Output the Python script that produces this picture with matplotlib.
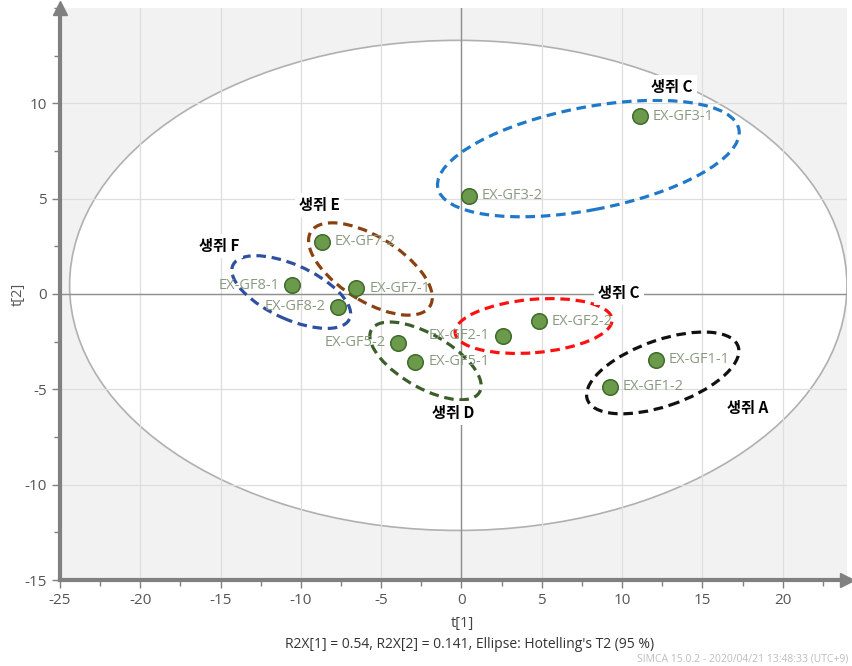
import matplotlib
import matplotlib.pyplot as plt
from matplotlib.patches import Ellipse
from matplotlib.ticker import MultipleLocator

matplotlib.use("Agg")
plt.rcParams["axes.unicode_minus"] = False

# score values t[1], t[2]
samples = ["EX-GF3-1", "EX-GF3-2", "EX-GF7-2", "EX-GF7-1", "EX-GF8-1", "EX-GF8-2",
           "EX-GF5-2", "EX-GF5-1", "EX-GF2-1", "EX-GF2-2", "EX-GF1-1", "EX-GF1-2"]
t1 = [11.1, 0.44, -8.67, -6.55, -10.54, -7.67, -3.93, -2.87, 2.56, 4.8, 12.1, 9.23]
t2 = [9.33, 5.14, 2.73, 0.31, 0.47, -0.68, -2.57, -3.56, -2.2, -1.42, -3.46, -4.87]
label_side = ["r", "r", "r", "r", "l", "l", "l", "r", "l", "r", "r", "r"]

# group ellipses: center x, center y, width, height, angle
group_cx = [7.9, -5.67, -10.6, -2.24, 4.49, 12.53]
group_cy = [7.1, 1.31, 0.1, -3.51, -1.68, -4.14]
group_w = [19.0, 8.4, 7.8, 7.5, 9.8, 9.8]
group_h = [5.4, 3.5, 2.9, 2.9, 2.8, 3.5]
group_ang = [9, -26, -20, -24.5, 4, 15.7]
group_col = ["#1f78c8", "#8b4010", "#2f4f9f", "#3b5e2b", "#ff1010", "#111111"]

# annotation labels
group_names = ["생쥐 C", "생쥐 E", "생쥐 F", "생쥐 C", "생쥐 D", "생쥐 A"]
name_x = [13.1, -8.85, -15.1, 9.8, -0.5, 17.8]
name_y = [10.85, 4.66, 2.5, 0.05, -6.24, -5.97]

t2_center = (-0.2, 0.45)
t2_radius = (24.2, 12.85)

fig = plt.figure(figsize=(8.53, 6.66), dpi=100, facecolor="white")
ax = fig.add_axes([0.0703, 0.1291, 0.9226, 0.859])
ax.set_facecolor("#f2f2f2")
ax.set_xlim(-25, 24)
ax.set_ylim(-15, 15)

ax.add_patch(Ellipse(t2_center, 2 * t2_radius[0], 2 * t2_radius[1], facecolor="white",
                     edgecolor="#b0b0b0", lw=1.2, zorder=0.2))

ax.xaxis.set_major_locator(MultipleLocator(5))
ax.yaxis.set_major_locator(MultipleLocator(5))
ax.xaxis.set_minor_locator(MultipleLocator(2.5))
ax.yaxis.set_minor_locator(MultipleLocator(2.5))
ax.set_axisbelow(True)
ax.grid(True, which="major", color="#dedede", lw=0.9)
ax.axhline(0, color="#8f8f8f", lw=1.0, zorder=0.6)
ax.axvline(0, color="#8f8f8f", lw=1.0, zorder=0.6)

for s in ["top", "right"]:
    ax.spines[s].set_visible(False)
for s in ["left", "bottom"]:
    ax.spines[s].set_color("#808080")
    ax.spines[s].set_linewidth(3)
ax.plot(1, 0, ">", color="#808080", ms=10, transform=ax.transAxes, clip_on=False)
ax.plot(0, 1, "^", color="#808080", ms=10, transform=ax.transAxes, clip_on=False)

ax.tick_params(which="both", direction="out", color="#808080", labelcolor="#555555",
               labelsize=11, length=6, width=1)
ax.tick_params(which="minor", length=4)
ax.set_yticks([-15, -10, -5, 0, 5, 10])
for lab in ax.get_xticklabels() + ax.get_yticklabels():
    lab.set_family("Open Sans")

for cx, cy, w, h, a, c in zip(group_cx, group_cy, group_w, group_h, group_ang, group_col):
    ax.add_patch(Ellipse((cx, cy), w, h, angle=a, fill=False, edgecolor=c, lw=2.3,
                         linestyle=(0, (3, 1.8)), zorder=3))

ax.scatter(t1, t2, s=125, color="#6a9a4a", edgecolor="#3f6a2c", lw=1.1, zorder=4)
for name, x, y, side in zip(samples, t1, t2, label_side):
    dx = 0.8 if side == "r" else -0.8
    ax.text(x + dx, y, name, ha="left" if side == "r" else "right", va="center",
            fontsize=10.5, color="#8a9a80", family="Open Sans", zorder=5)

for name, x, y in zip(group_names, name_x, name_y):
    ax.text(x, y, name, ha="center", va="center", fontsize=11, fontweight="bold",
            family=["Noto Sans CJK KR", "DejaVu Sans"], color="black", zorder=6,
            bbox=dict(facecolor="white", edgecolor="none", pad=3))

fig.text(18 / 853, 1 - 294 / 666, "t[2]", rotation=90, ha="center", va="center",
         fontsize=10.5, color="#555555", family="Open Sans")
fig.text(462 / 853, 1 - 624 / 666, "t[1]", ha="center", va="center",
         fontsize=10.5, color="#444444", family="Open Sans")
fig.text(470 / 853, 1 - 645 / 666, "R2X[1] = 0.54, R2X[2] = 0.141, Ellipse: Hotelling's T2 (95 %)",
         ha="center", va="center", fontsize=10, color="#333333", family="Open Sans")
fig.text(637 / 853, 1 - 659 / 666, "SIMCA 15.0.2 - 2020/04/21 13:48:33 (UTC+9)",
         ha="left", va="center", fontsize=7.5, color="#bdbdbd", family="Open Sans")

fig.savefig("out.png", dpi=100)
